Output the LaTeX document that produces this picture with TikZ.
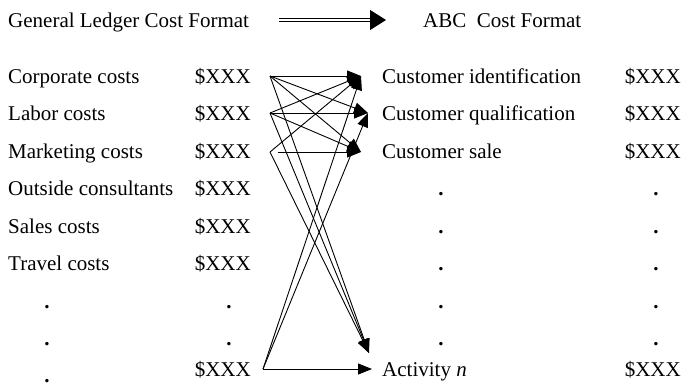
\documentclass[tikz,border=0pt]{standalone}
\usepackage{fontspec}
\setmainfont{Liberation Serif}
\usepackage{tikz}
\usetikzlibrary{arrows.meta}
\tikzset{
  flow/.style={line width=0.9pt, -{Triangle[length=14pt,width=11pt]}},
  lbl/.style={anchor=base west, inner sep=0pt},
  amt/.style={anchor=base east, inner sep=0pt},
  dotted row/.style={anchor=base, inner sep=0pt, font=\fontsize{21}{25}\selectfont\bfseries}
}

\begin{document}
\begin{tikzpicture}[x=1pt, y=-1pt, font=\fontsize{21}{25}\selectfont]
\useasboundingbox (0,0) rectangle (683,389);
% headings
\node[lbl] (glhead) at (8,27) {General Ledger Cost Format};
\node[lbl] (abchead) at (423,27) {ABC\ \ Cost Format};
\coordinate (hfrom) at (279,20);
\coordinate (hto) at (386,20);
\draw[double, double distance=2.6pt, line width=0.9pt, -{Triangle[length=16pt,width=20pt]}] (hfrom) -- (hto);
% general ledger side
\node[lbl] (corp) at (8,83.0) {Corporate costs};
\node[amt] (corpamt) at (251,83.0) {\$XXX};
\node[lbl] (labor) at (8,120.5) {Labor costs};
\node[amt] (laboramt) at (251,120.5) {\$XXX};
\node[lbl] (mkt) at (8,158.0) {Marketing costs};
\node[amt] (mktamt) at (251,158.0) {\$XXX};
\node[lbl] (outside) at (8,195.5) {Outside consultants};
\node[amt] (outsideamt) at (251,195.5) {\$XXX};
\node[lbl] (sales) at (8,233.0) {Sales costs};
\node[amt] (salesamt) at (251,233.0) {\$XXX};
\node[lbl] (travel) at (8,270.5) {Travel costs};
\node[amt] (travelamt) at (251,270.5) {\$XXX};
\node[dotted row] (ldot1) at (47,308.0) {.};
\node[dotted row] (adot1) at (229,308.0) {.};
\node[dotted row] (ldot2) at (47,345.5) {.};
\node[dotted row] (adot2) at (229,345.5) {.};
\node[dotted row] (ldot3) at (47,382.5) {.};
\node[amt] (lastamt) at (251,376) {\$XXX};
% ABC side
\node[lbl] (ident) at (382,83.0) {Customer identification};
\node[amt] (identamt) at (681,83.0) {\$XXX};
\node[lbl] (qual) at (382,120.5) {Customer qualification};
\node[amt] (qualamt) at (681,120.5) {\$XXX};
\node[lbl] (sale) at (382,158.0) {Customer sale};
\node[amt] (saleamt) at (681,158.0) {\$XXX};
\node[dotted row] (mdot1) at (441,195.5) {.};
\node[dotted row] (rdot1) at (656,195.5) {.};
\node[dotted row] (mdot2) at (441,233.0) {.};
\node[dotted row] (rdot2) at (656,233.0) {.};
\node[dotted row] (mdot3) at (441,270.5) {.};
\node[dotted row] (rdot3) at (656,270.5) {.};
\node[dotted row] (mdot4) at (441,308.0) {.};
\node[dotted row] (rdot4) at (656,308.0) {.};
\node[dotted row] (mdot5) at (441,345.5) {.};
\node[dotted row] (rdot5) at (656,345.5) {.};
\node[lbl] (actn) at (382,376) {Activity \textit{n}};
\node[amt] (actnamt) at (681,376) {\$XXX};
% arrow ends
\coordinate (corpout) at (270,76);
\coordinate (laborout) at (270,113);
\coordinate (mktout) at (270,152);
\coordinate (mktstart) at (278,152);
\coordinate (lastout) at (263,369);
\coordinate (identin) at (361,76);
\coordinate (qualin) at (368,113);
\coordinate (salein) at (361,152);
\coordinate (actnin) at (369,353);
\coordinate (actnside) at (372,369);
% cost assignment
\draw[flow] (corpout) -- (identin);
\draw[flow] (corpout) -- (qualin);
\draw[flow] (corpout) -- (salein);
\draw[flow] (corpout) -- (actnin);
\draw[flow] (laborout) -- (identin);
\draw[flow] (laborout) -- (qualin);
\draw[flow] (laborout) -- (salein);
\draw[flow] (laborout) -- (actnin);
\draw[flow] (mktout) -- (identin);
\draw[flow] (mktstart) -- (salein);
\draw[flow] (mktout) -- (actnin);
\draw[flow] (lastout) -- (identin);
\draw[flow] (lastout) -- (qualin);
\draw[flow] (lastout) -- (actnside);
\end{tikzpicture}
\end{document}
